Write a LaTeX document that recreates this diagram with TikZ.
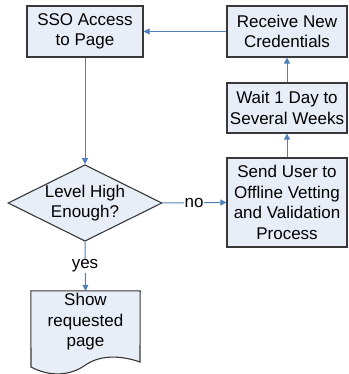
\documentclass[tikz,border=0pt]{standalone}
\usepackage{fontspec}
\setmainfont{Liberation Sans}
\usetikzlibrary{shapes.geometric,arrows.meta}
\definecolor{boxfill}{HTML}{E8EEF8}
\definecolor{boxline}{HTML}{383838}
\definecolor{arrowblue}{HTML}{4F81BD}
\tikzset{
  procbox/.style={draw=boxline, fill=boxfill, line width=1.1pt, rectangle, align=center, inner sep=0pt,
    font=\fontsize{17}{20.5}\selectfont},
  decbox/.style={draw=boxline, fill=boxfill, line width=1.1pt, diamond, align=center, inner sep=0pt,
    font=\fontsize{17}{20.5}\selectfont},
  doctext/.style={rectangle, align=center, inner sep=0pt, font=\fontsize{17}{20.5}\selectfont},
  lbl/.style={fill=white, inner sep=1pt, font=\fontsize{17}{20.5}\selectfont},
  flow/.style={draw=arrowblue, line width=1pt, -{Triangle[length=6pt,width=6pt]}},
}
\begin{document}
\begin{tikzpicture}[x=1pt,y=-1pt]
\useasboundingbox (0,0) rectangle (348,374);
\node[procbox, minimum width=116pt, minimum height=51pt] (sso) at (85,31.5) {SSO Access\\to Page};
\node[procbox, minimum width=120pt, minimum height=51pt] (recv) at (287,31.5) {Receive New\\Credentials};
\node[procbox, minimum width=120pt, minimum height=50pt] (wait) at (287,108) {Wait 1 Day to\\Several Weeks};
\node[procbox, minimum width=120pt, minimum height=89pt] (send) at (287,202.5) {Send User to\\Offline Vetting\\and Validation\\Process};
\node[decbox, minimum width=154pt, minimum height=76pt, aspect=2] (dec) at (85,203) {Level High\\Enough?};
% document shape
\node[doctext, minimum width=109pt, minimum height=68pt] (doc) at (85.5,325) {};
\fill[boxfill] (doc.north west) -- (doc.north east) -- (140,362)
  .. controls (120,355) and (100,355) .. (85.5,365)
  .. controls (70,376) and (50,377) .. (31,367) -- cycle;
\draw[boxline, line width=1.1pt] (doc.north west) -- (doc.north east) -- (140,362)
  .. controls (120,355) and (100,355) .. (85.5,365)
  .. controls (70,376) and (50,377) .. (31,367) -- cycle;
\node[doctext] (doct) at (85.5,322) {Show\\requested\\page};
% connectors
\draw[flow] (recv.west) -- (sso.east);
\draw[flow] (wait.north) -- (recv.south);
\draw[flow] (send.north) -- (wait.south);
\draw[flow] (sso.south) -- (dec.north);
\coordinate (nopt) at (194,203);
\draw[flow] (dec.east) -- (send.west);
\node[lbl] (nolbl) at (nopt) {no};
\coordinate (yespt) at (85,266);
\draw[flow] (dec.south) -- (doc.north);
\node[lbl] (yeslbl) at (yespt) {yes};
\end{tikzpicture}
\end{document}
